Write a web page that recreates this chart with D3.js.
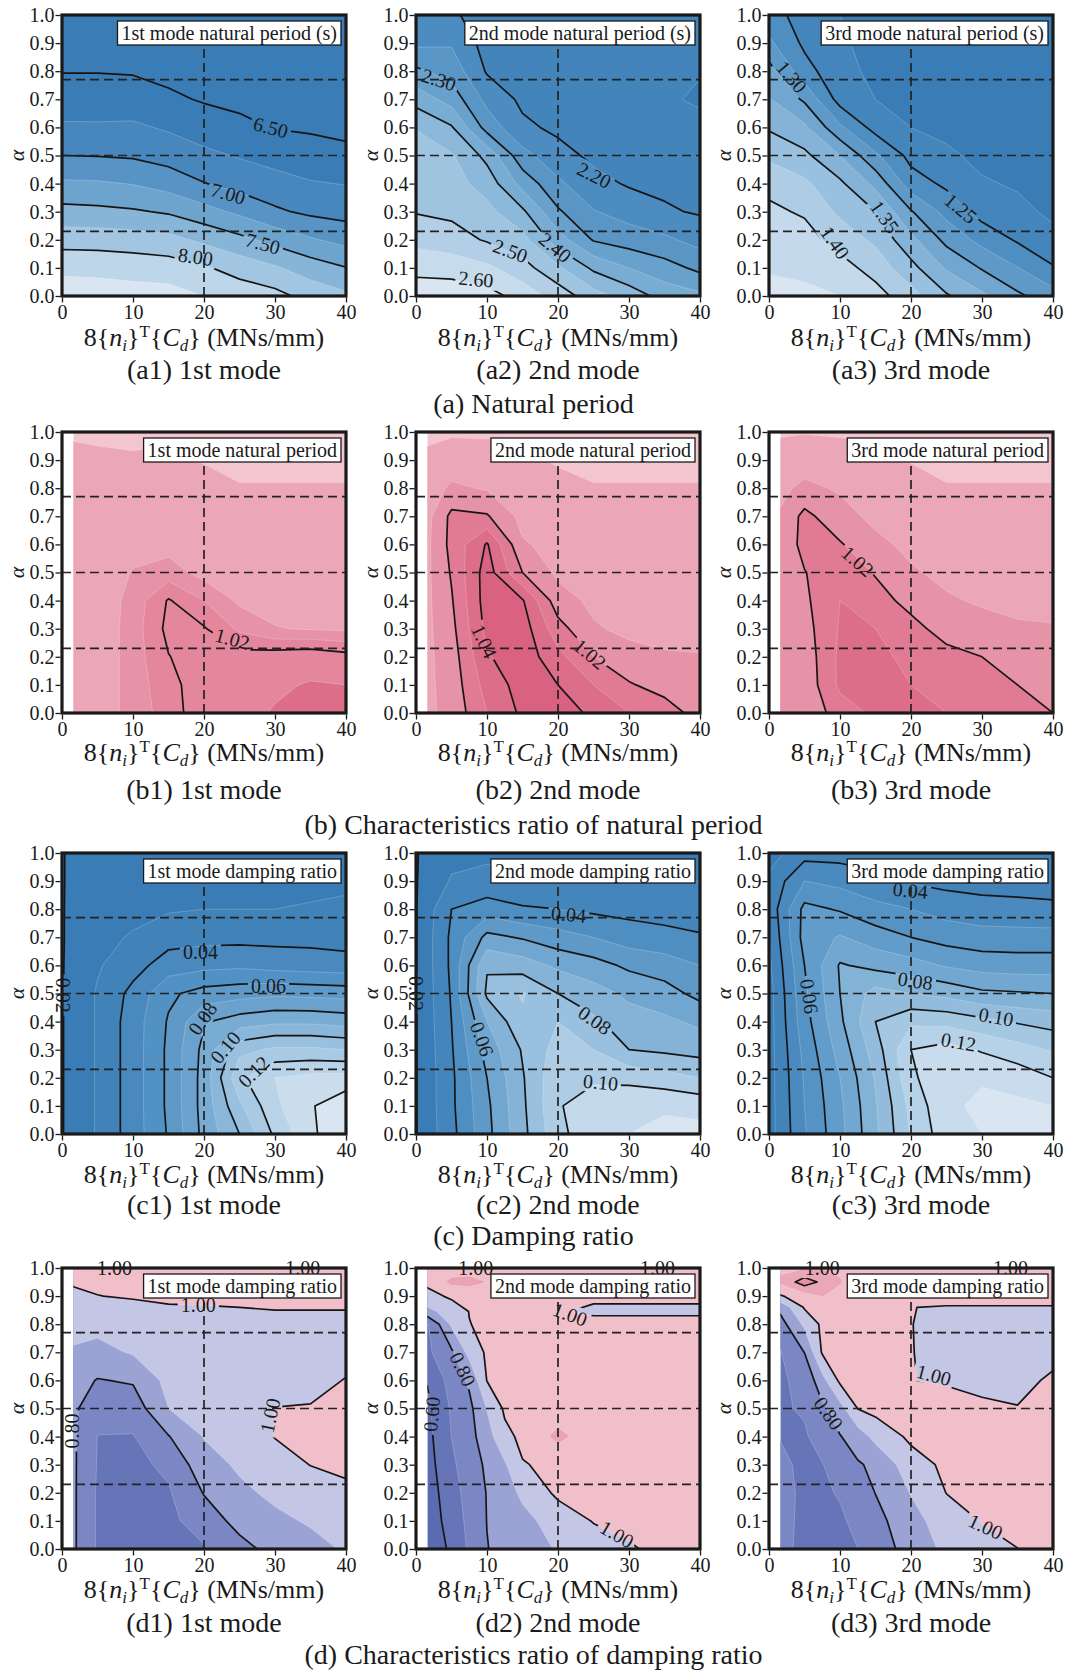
<!DOCTYPE html>
<html>
<head>
<meta charset="utf-8">
<script src="https://cdn.jsdelivr.net/npm/d3@7"></script>
<style>
body { margin: 0; background: #fff; }
text { font-family: "Liberation Serif", "Times New Roman", serif; fill: #1a1a1a; }
</style>
</head>
<body>
<svg id="chart" width="1067" height="1672"></svg>
<script>
// ---- axes / reference lines ----
const xTicks = [0, 10, 20, 30, 40];
const yTicks = [0, 0.1, 0.2, 0.3, 0.4, 0.5, 0.6, 0.7, 0.8, 0.9, 1.0];
const dashAlphas = [0.23, 0.5, 0.77];
const dashXs = [20];

// ---- grid positions (x = 8{n}T{C}, alpha) ----
const xsFull = [0, 5, 10, 15, 20, 25, 30, 35, 40];
const xsRatio = [1.6, 5, 10, 15, 20, 25, 30, 35, 40];
const xsRatioFine = [1.6, 5, 7.5, 10, 12.5, 15, 20, 25, 30, 35, 40];
const alphaStd = [0, 0.1, 0.2, 0.3, 0.4, 0.5, 0.6, 0.7, 0.8, 0.9, 1.0];
const alphaD2 = [0, 0.1, 0.2, 0.3, 0.4, 0.5, 0.6, 0.7, 0.8, 0.845, 0.9, 0.95, 1.0];
const alphaD3 = [0, 0.1, 0.2, 0.3, 0.4, 0.5, 0.6, 0.7, 0.8, 0.86, 0.9, 0.95, 1.0];

// ---- (a) natural period, one array per x column, alpha 0 -> 1 ----
const a1Cols = [
  [8.40, 8.19, 7.90, 7.58, 7.29, 7.00, 6.78, 6.64, 6.49, 6.42, 6.36],
  [8.38, 8.18, 7.89, 7.56, 7.28, 6.99, 6.78, 6.63, 6.49, 6.41, 6.35],
  [8.36, 8.15, 7.87, 7.53, 7.24, 6.97, 6.79, 6.62, 6.48, 6.41, 6.34],
  [8.35, 8.12, 7.83, 7.47, 7.15, 6.90, 6.72, 6.54, 6.44, 6.37, 6.30],
  [8.25, 8.03, 7.70, 7.34, 7.01, 6.81, 6.62, 6.48, 6.41, 6.34, 6.27],
  [8.15, 7.90, 7.57, 7.20, 6.91, 6.73, 6.55, 6.45, 6.38, 6.31, 6.24],
  [8.08, 7.78, 7.42, 7.04, 6.84, 6.66, 6.49, 6.42, 6.35, 6.28, 6.21],
  [7.91, 7.63, 7.28, 6.95, 6.77, 6.60, 6.47, 6.40, 6.33, 6.26, 6.19],
  [7.80, 7.51, 7.17, 6.91, 6.74, 6.55, 6.45, 6.38, 6.31, 6.24, 6.17]
];
const a1Fills = [6.75, 7.0, 7.25, 7.5, 7.75, 8.0, 8.25];
const a1Lines = [6.5, 7.0, 7.5, 8.0];
const a1Labels = [["6.50", 29.4, 0.60, 15], ["7.00", 23.4, 0.365, 15], ["7.50", 28.3, 0.187, 15], ["8.00", 18.8, 0.14, 8]];

const a2Cols = [
  [2.63, 2.585, 2.535, 2.497, 2.485, 2.47, 2.448, 2.38, 2.31, 2.24, 2.22],
  [2.63, 2.58, 2.52, 2.49, 2.47, 2.455, 2.405, 2.33, 2.28, 2.245, 2.21],
  [2.62, 2.56, 2.495, 2.465, 2.43, 2.385, 2.28, 2.235, 2.195, 2.18, 2.17],
  [2.58, 2.52, 2.467, 2.41, 2.333, 2.267, 2.21, 2.19, 2.18, 2.17, 2.165],
  [2.53, 2.46, 2.373, 2.307, 2.26, 2.217, 2.19, 2.18, 2.17, 2.16, 2.155],
  [2.47, 2.39, 2.296, 2.253, 2.215, 2.19, 2.18, 2.17, 2.16, 2.155, 2.152],
  [2.43, 2.35, 2.276, 2.23, 2.195, 2.18, 2.17, 2.16, 2.155, 2.152, 2.152],
  [2.38, 2.32, 2.26, 2.206, 2.19, 2.175, 2.165, 2.155, 2.152, 2.152, 2.152],
  [2.36, 2.288, 2.232, 2.195, 2.185, 2.17, 2.16, 2.145, 2.152, 2.155, 2.155]
];
const a2Fills = [2.15, 2.2, 2.25, 2.3, 2.35, 2.4, 2.45, 2.5, 2.55, 2.6];
const a2Lines = [2.2, 2.3, 2.4, 2.5, 2.6];
const a2Labels = [["2.30", 3.2, 0.77, 18], ["2.20", 25.1, 0.43, 27], ["2.40", 19.6, 0.173, 40], ["2.50", 13.3, 0.161, 20], ["2.60", 8.45, 0.06, 5]];

const a3Cols = [
  [1.435, 1.422, 1.413, 1.405, 1.393, 1.37, 1.347, 1.327, 1.31, 1.28, 1.26],
  [1.43, 1.42, 1.41, 1.397, 1.38, 1.356, 1.33, 1.296, 1.26, 1.245, 1.24],
  [1.425, 1.41, 1.39, 1.37, 1.355, 1.325, 1.28, 1.24, 1.232, 1.228, 1.225],
  [1.41, 1.39, 1.37, 1.35, 1.318, 1.28, 1.24, 1.225, 1.22, 1.218, 1.218],
  [1.385, 1.358, 1.332, 1.302, 1.262, 1.242, 1.225, 1.215, 1.21, 1.21, 1.21],
  [1.353, 1.322, 1.293, 1.267, 1.245, 1.23, 1.218, 1.21, 1.205, 1.205, 1.205],
  [1.33, 1.298, 1.267, 1.24, 1.228, 1.218, 1.21, 1.205, 1.205, 1.205, 1.205],
  [1.305, 1.276, 1.247, 1.232, 1.222, 1.214, 1.208, 1.205, 1.2, 1.2, 1.2],
  [1.285, 1.252, 1.232, 1.22, 1.217, 1.21, 1.205, 1.2, 1.2, 1.2, 1.2]
];
const a3Fills = [1.225, 1.25, 1.275, 1.3, 1.325, 1.35, 1.375, 1.4, 1.425];
const a3Lines = [1.25, 1.3, 1.35, 1.4];
const a3Labels = [["1.30", 3.2, 0.78, 50], ["1.35", 16.3, 0.282, 55], ["1.40", 9.3, 0.19, 55], ["1.25", 27, 0.312, 40]];

// ---- (b) characteristics ratio of natural period ----
const b1Cols = [
  [1.006, 1.006, 1.006, 1.005, 1.005, 1.005, 1.004, 1.004, 1.003, 1.002, 0.999],
  [1.006, 1.006, 1.006, 1.006, 1.006, 1.005, 1.005, 1.004, 1.003, 1.002, 0.998],
  [1.0125, 1.0125, 1.0125, 1.0125, 1.012, 1.0105, 1.007, 1.006, 1.004, 1.001, 0.998],
  [1.017, 1.018, 1.0198, 1.0215, 1.0205, 1.0125, 1.008, 1.006, 1.004, 1.001, 0.999],
  [1.024, 1.0235, 1.023, 1.0205, 1.015, 1.008, 1.007, 1.005, 1.003, 0.9995, 0.998],
  [1.026, 1.025, 1.022, 1.014, 1.009, 1.006, 1.005, 1.004, 1.0005, 0.998, 0.997],
  [1.031, 1.028, 1.023, 1.0103, 1.008, 1.006, 1.005, 1.004, 1.0005, 0.998, 0.997],
  [1.033, 1.031, 1.024, 1.0095, 1.008, 1.006, 1.005, 1.004, 1.0005, 0.998, 0.997],
  [1.033, 1.030, 1.022, 1.009, 1.008, 1.006, 1.005, 1.004, 1.0005, 0.998, 0.997]
];
const b1Fills = [1.0, 1.01, 1.015, 1.03];
const b1Lines = [1.02];
const b1Labels = [["1.02", 24, 0.264, 15]];

const b2Cols = [
  [1.008, 1.008, 1.008, 1.008, 1.008, 1.008, 1.008, 1.007, 1.004, 1.002, 0.998],
  [1.013, 1.014, 1.015, 1.017, 1.019, 1.021, 1.023, 1.0225, 1.012, 1.004, 0.999],
  [1.03, 1.034, 1.039, 1.043, 1.045, 1.045, 1.041, 1.021, 1.009, 1.003, 0.999],
  [1.042, 1.044, 1.046, 1.045, 1.041, 1.02, 1.011, 1.007, 1.005, 1.002, 0.9995],
  [1.045, 1.04, 1.033, 1.024, 1.014, 1.008, 1.007, 1.005, 1.003, 0.999, 0.998],
  [1.038, 1.03, 1.02, 1.011, 1.008, 1.006, 1.005, 1.004, 1.0005, 0.998, 0.997],
  [1.03, 1.021, 1.013, 1.008, 1.006, 1.005, 1.005, 1.004, 1.0005, 0.998, 0.997],
  [1.025, 1.016, 1.011, 1.007, 1.006, 1.005, 1.005, 1.004, 1.0005, 0.998, 0.997],
  [1.016, 1.013, 1.0105, 1.007, 1.006, 1.005, 1.005, 1.004, 1.0005, 0.998, 0.997]
];
const b2Fills = [1.0, 1.01, 1.02, 1.03, 1.04];
const b2Lines = [1.02, 1.04];
const b2Labels = [["1.04", 9.6, 0.255, 65], ["1.02", 24.5, 0.21, 40]];

const b3Cols = [
  [1.011, 1.011, 1.011, 1.011, 1.011, 1.011, 1.011, 1.011, 1.008, 1.004, 0.999],
  [1.012, 1.013, 1.014, 1.016, 1.018, 1.0195, 1.024, 1.023, 1.012, 1.006, 0.9995],
  [1.025, 1.032, 1.032, 1.031, 1.03, 1.028, 1.021, 1.013, 1.009, 1.004, 0.999],
  [1.032, 1.033, 1.032, 1.03, 1.025, 1.019, 1.012, 1.008, 1.006, 1.002, 0.999],
  [1.03, 1.03, 1.028, 1.024, 1.016, 1.011, 1.008, 1.006, 1.004, 0.9995, 0.998],
  [1.03, 1.028, 1.024, 1.015, 1.011, 1.008, 1.006, 1.005, 1.0005, 0.998, 0.997],
  [1.028, 1.026, 1.02, 1.013, 1.009, 1.007, 1.006, 1.005, 1.0005, 0.998, 0.997],
  [1.026, 1.02, 1.014, 1.011, 1.008, 1.007, 1.006, 1.005, 1.0005, 0.998, 0.997],
  [1.02, 1.016, 1.012, 1.0105, 1.008, 1.007, 1.006, 1.005, 1.0005, 0.998, 0.997]
];
const b3Fills = [1.0, 1.01, 1.02, 1.03];
const b3Lines = [1.02];
const b3Labels = [["1.02", 12.5, 0.54, 42]];

// ---- (c) damping ratio ----
const c1Cols = [
  [0.0195, 0.0195, 0.0195, 0.0195, 0.0195, 0.0195, 0.0195, 0.0195, 0.0195, 0.0195, 0.0195],
  [0.031, 0.031, 0.031, 0.031, 0.031, 0.031, 0.029, 0.027, 0.027, 0.026, 0.026],
  [0.045, 0.045, 0.045, 0.045, 0.045, 0.043, 0.036, 0.031, 0.027, 0.026, 0.025],
  [0.061, 0.062, 0.062, 0.062, 0.061, 0.058, 0.045, 0.036, 0.029, 0.026, 0.025],
  [0.083, 0.084, 0.084, 0.083, 0.079, 0.064, 0.047, 0.037, 0.03, 0.026, 0.025],
  [0.10, 0.108, 0.118, 0.107, 0.085, 0.066, 0.048, 0.037, 0.03, 0.026, 0.025],
  [0.122, 0.128, 0.13, 0.112, 0.088, 0.068, 0.046, 0.037, 0.03, 0.026, 0.025],
  [0.138, 0.139, 0.133, 0.112, 0.088, 0.067, 0.045, 0.037, 0.031, 0.027, 0.025],
  [0.148, 0.147, 0.134, 0.11, 0.086, 0.066, 0.044, 0.036, 0.032, 0.028, 0.026]
];
const c1Fills = [0.03, 0.04, 0.05, 0.06, 0.07, 0.08, 0.09, 0.10, 0.11, 0.12, 0.13, 0.14];
const c1Lines = [0.02, 0.04, 0.06, 0.08, 0.10, 0.12, 0.14];
const c1Labels = [["0.02", 0.15, 0.494, 90], ["0.04", 19.5, 0.648, 0], ["0.06", 29.1, 0.527, 0], ["0.08", 19.8, 0.411, -55], ["0.10", 23, 0.308, -50], ["0.12", 27, 0.222, -45]];

const c2Cols = [
  [0.0195, 0.0195, 0.0195, 0.0195, 0.0195, 0.0195, 0.0195, 0.0195, 0.0195, 0.0195, 0.0195],
  [0.037, 0.038, 0.038, 0.039, 0.04, 0.041, 0.042, 0.042, 0.04, 0.031, 0.027],
  [0.057, 0.058, 0.06, 0.064, 0.07, 0.082, 0.079, 0.063, 0.045, 0.033, 0.028],
  [0.077, 0.078, 0.079, 0.081, 0.088, 0.091, 0.075, 0.059, 0.041, 0.033, 0.028],
  [0.097, 0.099, 0.098, 0.094, 0.09, 0.08, 0.068, 0.054, 0.04, 0.032, 0.028],
  [0.107, 0.106, 0.098, 0.09, 0.082, 0.074, 0.064, 0.05, 0.038, 0.031, 0.027],
  [0.11, 0.108, 0.097, 0.08, 0.074, 0.068, 0.058, 0.045, 0.037, 0.03, 0.026],
  [0.112, 0.109, 0.094, 0.078, 0.072, 0.064, 0.055, 0.043, 0.036, 0.03, 0.026],
  [0.113, 0.107, 0.09, 0.076, 0.068, 0.057, 0.05, 0.041, 0.035, 0.03, 0.026]
];
const c2Fills = [0.03, 0.04, 0.05, 0.06, 0.07, 0.08, 0.09, 0.10, 0.11];
const c2Lines = [0.02, 0.04, 0.06, 0.08, 0.10];
const c2Labels = [["0.02", 0.0, 0.5, 90], ["0.04", 21.5, 0.782, 5], ["0.06", 9.3, 0.338, 70], ["0.08", 25.2, 0.405, 35], ["0.10", 26, 0.184, 5]];

const c3Cols = [
  [0.026, 0.026, 0.026, 0.026, 0.026, 0.026, 0.028, 0.03, 0.033, 0.032, 0.026],
  [0.049, 0.05, 0.051, 0.053, 0.056, 0.058, 0.06, 0.064, 0.063, 0.05, 0.036],
  [0.067, 0.068, 0.07, 0.074, 0.078, 0.08, 0.081, 0.071, 0.059, 0.047, 0.036],
  [0.088, 0.089, 0.091, 0.095, 0.1, 0.094, 0.077, 0.065, 0.053, 0.043, 0.035],
  [0.111, 0.113, 0.118, 0.12, 0.108, 0.09, 0.074, 0.06, 0.05, 0.039, 0.033],
  [0.126, 0.128, 0.128, 0.124, 0.107, 0.087, 0.069, 0.056, 0.046, 0.037, 0.033],
  [0.13, 0.132, 0.129, 0.119, 0.103, 0.082, 0.066, 0.054, 0.044, 0.036, 0.032],
  [0.131, 0.132, 0.126, 0.114, 0.099, 0.081, 0.065, 0.054, 0.043, 0.036, 0.032],
  [0.131, 0.13, 0.12, 0.109, 0.096, 0.08, 0.065, 0.054, 0.042, 0.036, 0.032]
];
const c3Fills = [0.03, 0.04, 0.05, 0.06, 0.07, 0.08, 0.09, 0.10, 0.11, 0.12, 0.13];
const c3Lines = [0.04, 0.06, 0.08, 0.10, 0.12];
const c3Labels = [["0.04", 19.9, 0.867, 5], ["0.06", 5.7, 0.49, 82], ["0.08", 20.6, 0.545, 8], ["0.10", 32, 0.417, 10], ["0.12", 26.7, 0.328, 10]];

// ---- (d) characteristics ratio of damping ratio ----
const d1Cols = [
  [0.815, 0.815, 0.815, 0.815, 0.815, 0.82, 0.84, 0.89, 0.93, 0.99, 1.02],
  [0.69, 0.69, 0.69, 0.695, 0.698, 0.73, 0.795, 0.87, 0.93, 0.999, 1.02],
  [0.66, 0.66, 0.665, 0.675, 0.695, 0.745, 0.81, 0.91, 0.96, 1.005, 1.02],
  [0.67, 0.675, 0.69, 0.72, 0.795, 0.9, 0.93, 0.95, 0.975, 1.01, 1.02],
  [0.69, 0.75, 0.805, 0.86, 0.905, 0.93, 0.95, 0.965, 0.98, 1.01, 1.02],
  [0.77, 0.83, 0.88, 0.915, 0.94, 0.955, 0.965, 0.975, 0.985, 1.01, 1.02],
  [0.83, 0.88, 0.92, 0.96, 1.003, 1.001, 0.98, 0.985, 0.99, 1.01, 1.02],
  [0.87, 0.91, 0.95, 1.002, 1.02, 1.003, 0.985, 0.985, 0.99, 1.01, 1.02],
  [0.91, 0.94, 0.98, 1.02, 1.04, 1.03, 1.002, 0.985, 0.99, 1.01, 1.02]
];
const d1Fills = [0.7, 0.8, 0.9, 1.0];
const d1Lines = [0.8, 1.0];
const d1Labels = [["1.00", 7.4, 1.0, 0], ["1.00", 33.9, 1.0, 0], ["1.00", 19.2, 0.867, 0], ["1.00", 29.3, 0.475, -78], ["0.80", 1.4, 0.42, -90]];

// d2 and d3: one array per alpha row, x columns on xsRatioFine
const d2Rows = [
  [0.55, 0.613, 0.716, 0.797, 0.827, 0.855, 0.908, 0.95, 0.992, 1.02, 1.035],
  [0.55, 0.635, 0.729, 0.802, 0.836, 0.871, 0.943, 1.005, 1.02, 1.03, 1.035],
  [0.55, 0.657, 0.739, 0.804, 0.857, 0.92, 1.02, 1.025, 1.03, 1.03, 1.035],
  [0.56, 0.681, 0.751, 0.817, 0.889, 0.995, 1.02, 1.03, 1.03, 1.03, 1.035],
  [0.57, 0.701, 0.763, 0.86, 0.975, 1.02, 1.06, 1.03, 1.03, 1.03, 1.035],
  [0.58, 0.712, 0.773, 0.905, 1.015, 1.025, 1.03, 1.03, 1.03, 1.03, 1.035],
  [0.605, 0.739, 0.817, 1.003, 1.02, 1.025, 1.03, 1.03, 1.03, 1.03, 1.035],
  [0.68, 0.783, 0.933, 1.015, 1.02, 1.025, 1.03, 1.03, 1.03, 1.03, 1.03],
  [0.69, 0.917, 0.998, 1.015, 1.02, 1.02, 1.02, 1.02, 1.02, 1.02, 1.02],
  [0.87, 0.95, 1.002, 1.01, 1.015, 1.015, 1.005, 0.99, 0.99, 0.99, 0.99],
  [0.97, 1.015, 1.02, 1.02, 1.02, 1.02, 1.01, 1.01, 1.01, 1.01, 1.01],
  [1.02, 1.06, 1.065, 1.05, 1.03, 1.03, 1.03, 1.03, 1.03, 1.03, 1.03],
  [1.03, 1.03, 1.03, 1.03, 1.03, 1.03, 1.03, 1.03, 1.03, 1.03, 1.03]
];
const d2Fills = [0.6, 0.7, 0.8, 0.9, 1.0, 1.05];
const d2Lines = [0.6, 0.8, 1.0];
const d2Labels = [["1.00", 8.4, 1.0, 0], ["1.00", 34, 1.0, 0], ["1.00", 21.7, 0.835, 20], ["1.00", 28.3, 0.053, 30], ["0.80", 6.6, 0.64, 65], ["0.60", 2.2, 0.48, -85]];

const d3Rows = [
  [0.74, 0.664, 0.655, 0.665, 0.699, 0.743, 0.843, 0.921, 0.96, 0.999, 1.03],
  [0.735, 0.675, 0.665, 0.685, 0.725, 0.767, 0.867, 0.947, 1.005, 1.025, 1.03],
  [0.725, 0.685, 0.685, 0.708, 0.75, 0.802, 0.905, 1.002, 1.03, 1.03, 1.03],
  [0.71, 0.69, 0.697, 0.737, 0.79, 0.82, 0.957, 1.02, 1.03, 1.03, 1.03],
  [0.698, 0.69, 0.736, 0.795, 0.85, 0.93, 1.02, 1.03, 1.03, 1.03, 1.03],
  [0.69, 0.709, 0.78, 0.864, 1.002, 1.03, 1.03, 1.02, 1.01, 1.002, 1.005],
  [0.69, 0.72, 0.867, 1.02, 1.03, 1.03, 1.001, 0.995, 0.985, 0.985, 1.008],
  [0.695, 0.802, 1.01, 1.03, 1.03, 1.03, 1.001, 0.99, 0.985, 0.985, 0.985],
  [0.76, 0.92, 1.02, 1.03, 1.03, 1.03, 1.001, 0.985, 0.985, 0.985, 0.985],
  [0.83, 1.01, 1.04, 1.04, 1.03, 1.03, 1.001, 0.995, 0.995, 0.995, 0.995],
  [0.99, 1.06, 1.105, 1.06, 1.04, 1.03, 1.03, 1.03, 1.03, 1.03, 1.03],
  [1.12, 1.25, 1.18, 1.11, 1.05, 1.03, 1.03, 1.03, 1.03, 1.03, 1.03],
  [1.08, 1.095, 1.095, 1.08, 1.04, 1.03, 1.03, 1.03, 1.03, 1.03, 1.03]
];
const d3Fills = [0.7, 0.8, 0.9, 1.0, 1.1, 1.2];
const d3Lines = [0.8, 1.0, 1.2];
const d3Labels = [["1.00", 7.5, 1.0, 0], ["1.00", 34, 1.0, 0], ["1.00", 23.2, 0.619, 15], ["1.00", 30.5, 0.08, 25], ["0.80", 8.4, 0.483, 55]];

// ---- texts ----
const boxTitles = [
  ["1st mode natural period (s)", "2nd mode natural period (s)", "3rd mode natural period (s)"],
  ["1st mode natural period", "2nd mode natural period", "3rd mode natural period"],
  ["1st mode damping ratio", "2nd mode damping ratio", "3rd mode damping ratio"],
  ["1st mode damping ratio", "2nd mode damping ratio", "3rd mode damping ratio"]
];
const captions = [
  ["(a1) 1st mode", "(a2) 2nd mode", "(a3) 3rd mode"],
  ["(b1) 1st mode", "(b2) 2nd mode", "(b3) 3rd mode"],
  ["(c1) 1st mode", "(c2) 2nd mode", "(c3) 3rd mode"],
  ["(d1) 1st mode", "(d2) 2nd mode", "(d3) 3rd mode"]
];
const rowTitles = ["(a) Natural period", "(b) Characteristics ratio of natural period", "(c) Damping ratio", "(d) Characteristics ratio of damping ratio"];

// ---- colours ----
const blueRamp = d3.interpolateRgbBasis(["#3a7cb5", "#4f8fc2", "#78acd3", "#a9cae4", "#d9e6f2"]);
const pinkScale = d3.scaleThreshold()
  .domain([1.0, 1.01, 1.015, 1.02, 1.03, 1.04])
  .range(["#f3c5cf", "#eba7b7", "#e793a7", "#e4869c", "#e07b93", "#dc6e89", "#d8627f"]);
const duoScale = d3.scaleThreshold()
  .domain([0.6, 0.7, 0.8, 0.9, 1.0, 1.05, 1.1, 1.2])
  .range(["#5b6bb1", "#6675b8", "#7b87c4", "#9ba3d4", "#c3c6e5", "#f1bfca", "#e9a3b4", "#eaa7b7", "#e391a5"]);

// ---- layout ----
const W = 1067, H = 1672;
const colLeft = [62, 416, 769];
const rowTop = [15, 432, 853, 1268];
const plotW = 284, plotH = 281;
const xLabelY = [346, 761, 1183, 1598];
const captionY = [379, 799, 1214, 1632];
const titleY = [413, 834, 1245, 1664];

const panels = [
  { kind: "blue", xs: xsFull, alphas: alphaStd, cols: a1Cols, fills: a1Fills, lines: a1Lines, labels: a1Labels },
  { kind: "blue", xs: xsFull, alphas: alphaStd, cols: a2Cols, fills: a2Fills, lines: a2Lines, labels: a2Labels },
  { kind: "blue", xs: xsFull, alphas: alphaStd, cols: a3Cols, fills: a3Fills, lines: a3Lines, labels: a3Labels },
  { kind: "pink", xs: xsRatio, alphas: alphaStd, cols: b1Cols, fills: b1Fills, lines: b1Lines, labels: b1Labels },
  { kind: "pink", xs: xsRatio, alphas: alphaStd, cols: b2Cols, fills: b2Fills, lines: b2Lines, labels: b2Labels },
  { kind: "pink", xs: xsRatio, alphas: alphaStd, cols: b3Cols, fills: b3Fills, lines: b3Lines, labels: b3Labels },
  { kind: "blue", xs: xsFull, alphas: alphaStd, cols: c1Cols, fills: c1Fills, lines: c1Lines, labels: c1Labels },
  { kind: "blue", xs: xsFull, alphas: alphaStd, cols: c2Cols, fills: c2Fills, lines: c2Lines, labels: c2Labels },
  { kind: "blue", xs: xsFull, alphas: alphaStd, cols: c3Cols, fills: c3Fills, lines: c3Lines, labels: c3Labels },
  { kind: "duo", xs: xsRatio, alphas: alphaStd, cols: d1Cols, fills: d1Fills, lines: d1Lines, labels: d1Labels },
  { kind: "duo", xs: xsRatioFine, alphas: alphaD2, rows: d2Rows, fills: d2Fills, lines: d2Lines, labels: d2Labels },
  { kind: "duo", xs: xsRatioFine, alphas: alphaD3, rows: d3Rows, fills: d3Fills, lines: d3Lines, labels: d3Labels }
];

const svg = d3.select("#chart");
const defs = svg.append("defs");

function bandColors(p) {
  const n = p.fills.length + 1;
  if (p.kind === "blue") {
    return d3.range(n).map(i => blueRamp(i / (n - 1)));
  }
  const sc = p.kind === "pink" ? pinkScale : duoScale;
  return [sc(p.fills[0] - 1e-6)].concat(p.fills.map(t => sc(t)));
}

function xLabel(g, cx, cy) {
  const t = g.append("text").attr("x", cx).attr("y", cy)
    .attr("text-anchor", "middle").style("font-size", "26px");
  t.append("tspan").text("8{");
  t.append("tspan").style("font-style", "italic").text("n");
  t.append("tspan").style("font-style", "italic").style("font-size", "17px").attr("dy", 5).text("i");
  t.append("tspan").attr("dy", -5).text("}");
  t.append("tspan").style("font-size", "17px").attr("dy", -9).text("T");
  t.append("tspan").attr("dy", 9).text("{");
  t.append("tspan").style("font-style", "italic").text("C");
  t.append("tspan").style("font-style", "italic").style("font-size", "17px").attr("dy", 5).text("d");
  t.append("tspan").attr("dy", -5).text("}");
  t.append("tspan").text(" (MNs/mm)");
}

panels.forEach((p, k) => {
  const row = Math.floor(k / 3), col = k % 3;
  const left = colLeft[col], top = rowTop[row];
  const x = d3.scaleLinear().domain([0, 40]).range([left, left + plotW]);
  const y = d3.scaleLinear().domain([0, 1]).range([top + plotH, top]);

  const nx = p.xs.length, ny = p.alphas.length;
  const values = new Array(nx * ny);
  for (let j = 0; j < ny; j++) {
    for (let i = 0; i < nx; i++) {
      values[j * nx + i] = p.cols ? p.cols[i][j] : p.rows[j][i];
    }
  }
  // grid index (value centred at i + 0.5) -> data units
  const gx = d3.scaleLinear().domain(p.xs.map((_, i) => i + 0.5)).range(p.xs);
  const gy = d3.scaleLinear().domain(p.alphas.map((_, j) => j + 0.5)).range(p.alphas);
  const path = d3.geoPath(d3.geoTransform({
    point(px, py) { this.stream.point(x(gx(px)), y(gy(py))); }
  }));
  const contours = d3.contours().size([nx, ny]);

  defs.append("clipPath").attr("id", "clip" + k)
    .append("rect")
    .attr("x", x(p.xs[0])).attr("y", y(1))
    .attr("width", x(40) - x(p.xs[0])).attr("height", y(0) - y(1));

  const mask = defs.append("mask").attr("id", "mask" + k)
    .attr("maskUnits", "userSpaceOnUse")
    .attr("x", 0).attr("y", 0).attr("width", W).attr("height", H);
  mask.append("rect").attr("width", W).attr("height", H).attr("fill", "white");

  const g = svg.append("g");

  // filled bands
  const colors = bandColors(p);
  const fillG = g.append("g").attr("clip-path", `url(#clip${k})`);
  fillG.append("rect")
    .attr("x", x(p.xs[0])).attr("y", y(1))
    .attr("width", x(40) - x(p.xs[0])).attr("height", y(0) - y(1))
    .attr("fill", colors[0]);
  fillG.selectAll("path.band")
    .data(contours.thresholds(p.fills)(values))
    .join("path")
    .attr("class", "band")
    .attr("d", path)
    .attr("fill", (d, i) => colors[i + 1])
    .attr("stroke", "rgba(255,255,255,0.3)")
    .attr("stroke-width", 0.7);

  // contour lines
  const lineG = g.append("g").attr("clip-path", `url(#clip${k})`)
    .append("g").attr("mask", `url(#mask${k})`);
  lineG.selectAll("path")
    .data(contours.thresholds(p.lines)(values))
    .join("path")
    .attr("d", path)
    .attr("fill", "none")
    .attr("stroke", "#151515")
    .attr("stroke-width", 1.7)
    .attr("stroke-linejoin", "round");

  // dashed reference lines
  const dashG = g.append("g")
    .attr("stroke", "#222").attr("stroke-width", 1.7).attr("stroke-dasharray", "9,5");
  dashAlphas.forEach(a => {
    dashG.append("line").attr("x1", x(0)).attr("x2", x(40)).attr("y1", y(a)).attr("y2", y(a));
  });
  dashXs.forEach(v => {
    dashG.append("line").attr("x1", x(v)).attr("x2", x(v)).attr("y1", y(0)).attr("y2", y(1));
  });

  // frame
  g.append("rect")
    .attr("x", x(0)).attr("y", y(1))
    .attr("width", x(40) - x(0)).attr("height", y(0) - y(1))
    .attr("fill", "none").attr("stroke", "#1a1a1a").attr("stroke-width", 3.2);

  // axes
  const yAxis = g.append("g").attr("transform", `translate(${x(0) - 1.5},0)`)
    .call(d3.axisLeft(y).tickValues(yTicks).tickFormat(d3.format(".1f")).tickSize(5).tickPadding(1));
  const xAxis = g.append("g").attr("transform", `translate(0,${y(0) + 1.5})`)
    .call(d3.axisBottom(x).tickValues(xTicks).tickFormat(d3.format("d")).tickSize(5).tickPadding(2));
  [yAxis, xAxis].forEach(a => {
    a.select(".domain").remove();
    a.selectAll(".tick line").attr("stroke", "#1a1a1a").attr("stroke-width", 1.3);
    a.selectAll(".tick text").style("font-size", "20px").style("font-family", "Liberation Serif").attr("fill", "#1a1a1a");
  });

  // contour labels (and holes in the lines under them)
  p.labels.forEach(([txt, lx, la, ang]) => {
    const tr = `translate(${x(lx)},${y(la)}) rotate(${ang})`;
    const t = g.append("text")
      .attr("transform", tr)
      .attr("text-anchor", "middle")
      .attr("dominant-baseline", "central")
      .style("font-size", "20px")
      .text(txt);
    const bb = t.node().getBBox();
    mask.append("rect")
      .attr("transform", tr)
      .attr("x", bb.x - 3).attr("y", bb.y + 1)
      .attr("width", bb.width + 6).attr("height", bb.height - 2)
      .attr("fill", "black");
  });

  // title box
  const boxG = g.append("g");
  const boxRect = boxG.append("rect");
  const boxText = boxG.append("text")
    .attr("x", x(40) - 9).attr("y", y(1) + 25)
    .attr("text-anchor", "end")
    .style("font-size", "20px")
    .text(boxTitles[row][col]);
  const tb = boxText.node().getBBox();
  boxRect.attr("x", tb.x - 4).attr("y", y(1) + 6)
    .attr("width", tb.width + 8).attr("height", 24)
    .attr("fill", "#fff").attr("stroke", "#1a1a1a").attr("stroke-width", 1.3);

  // axis titles and caption
  g.append("text")
    .attr("transform", `translate(${x(0) - 46},${(y(0) + y(1)) / 2}) rotate(-90)`)
    .attr("text-anchor", "middle").attr("dominant-baseline", "central")
    .style("font-size", "22px").style("font-style", "italic")
    .text("α");
  xLabel(g, (x(0) + x(40)) / 2, xLabelY[row]);
  g.append("text")
    .attr("x", (x(0) + x(40)) / 2).attr("y", captionY[row])
    .attr("text-anchor", "middle").style("font-size", "28px")
    .text(captions[row][col]);
});

rowTitles.forEach((t, r) => {
  svg.append("text")
    .attr("x", W / 2).attr("y", titleY[r])
    .attr("text-anchor", "middle").style("font-size", "28px")
    .text(t);
});
</script>
</body>
</html>
